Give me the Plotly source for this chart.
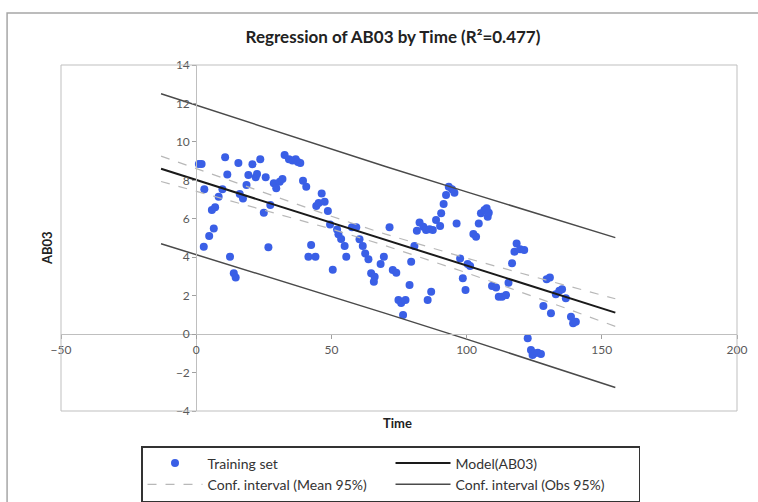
import plotly.graph_objects as go

# Training set (Time, AB03)
time_vals = [1.0, 2.0, 2.8, 3.0, 4.8, 5.8, 6.5, 7.0, 8.3, 9.7, 10.7, 11.5, 12.5, 13.9, 14.6,
             15.6, 16.1, 17.3, 18.6, 19.3, 20.8, 22.0, 22.5, 23.7, 25.0, 25.7, 26.7, 27.4,
             28.7, 29.6, 30.9, 31.9, 32.7, 34.3, 35.6, 36.8, 37.6, 38.5, 39.5, 40.7, 41.5,
             42.5, 44.1, 44.4, 45.3, 46.4, 47.5, 48.7, 49.5, 50.5, 52.1, 52.6, 53.6, 54.9,
             55.5, 57.6, 59.2, 60.4, 61.6, 62.5, 63.7, 64.7, 65.7, 66.0, 68.2, 69.4, 71.5,
             72.7, 74.0, 74.8, 75.8, 76.5, 77.4, 78.9, 79.5, 80.7, 81.6, 82.6, 84.0, 85.0,
             85.6, 86.3, 86.9, 87.5, 88.7, 90.2, 90.6, 91.5, 92.4, 93.4, 94.6, 95.5, 96.3,
             97.6, 98.6, 99.6, 100.4, 101.3, 102.5, 103.5, 104.5, 105.3, 106.6, 107.4, 107.8,
             108.2, 109.4, 110.9, 111.9, 113.1, 114.6, 115.5, 116.8, 117.7, 118.5, 119.8,
             121.3, 122.6, 123.8, 124.4, 125.0, 126.3, 127.5, 128.4, 129.6, 130.8, 131.2,
             133.0, 134.3, 135.3, 136.7, 138.6, 139.4, 140.4]
ab03_vals = [8.85, 8.85, 4.55, 7.54, 5.10, 6.46, 5.50, 6.60, 7.15, 7.54, 9.20, 8.30, 4.03, 3.16, 2.95,
             8.90, 7.29, 7.05, 7.76, 8.28, 8.84, 8.16, 8.33, 9.10, 6.32, 8.16, 4.52, 6.72,
             7.85, 7.59, 7.93, 8.07, 9.32, 9.10, 9.03, 9.10, 8.95, 8.90, 7.98, 7.67, 4.03,
             4.64, 4.03, 6.67, 6.82, 7.31, 6.89, 6.40, 5.70, 3.35, 5.44, 5.20, 4.95, 4.58,
             4.03, 5.56, 5.56, 4.93, 4.58, 4.20, 3.89, 3.16, 2.72, 2.98, 3.65, 4.03, 5.56,
             3.33, 3.19, 1.77, 1.62, 0.99, 1.77, 2.55, 3.77, 4.58, 5.38, 5.80, 5.59, 5.42,
             1.77, 5.45, 2.20, 5.42, 5.94, 5.63, 6.29, 6.77, 7.24, 7.67, 7.54, 7.36, 5.76,
             3.94, 2.90, 2.29, 3.65, 3.54, 5.21, 5.07, 5.76, 6.29, 6.46, 6.55, 6.11,
             6.32, 2.50, 2.43, 1.94, 1.94, 2.03, 2.67, 3.68, 4.29, 4.72, 4.41,
             4.38, -0.22, -0.83, -1.09, -1.00, -0.97, -1.04, 1.46, 2.85, 2.95, 1.08,
             2.08, 2.26, 2.33, 1.86, 0.90, 0.56, 0.64]

# Model and confidence intervals, read at these Time positions
line_x = [-13, 20, 50, 70, 100, 130, 155]
model_y = [8.60, 7.13, 5.80, 4.90, 3.57, 2.24, 1.12]
mean_upper = [9.26, 7.61, 6.13, 5.20, 3.95, 2.79, 1.84]
mean_lower = [7.94, 6.65, 5.47, 4.60, 3.19, 1.69, 0.40]
obs_upper = [12.50, 10.99, 9.63, 8.72, 7.40, 6.10, 5.02]
obs_lower = [4.70, 3.27, 1.97, 1.08, -0.26, -1.62, -2.78]

x_ticks = [-50, 0, 50, 100, 150, 200]
y_ticks = [-4, -2, 0, 2, 4, 6, 8, 10, 12, 14]

FONT = "Lato"
fig = go.Figure()

fig.add_trace(go.Scatter(x=time_vals, y=ab03_vals, mode="markers", name="Training set",
                         marker=dict(color="#3a5fe6", size=8)))
fig.add_trace(go.Scatter(x=line_x, y=model_y, mode="lines", name="Model(AB03)",
                         line=dict(color="#1a1a1a", width=2)))
fig.add_trace(go.Scatter(x=line_x, y=mean_upper, mode="lines", name="Conf. interval (Mean 95%)",
                         legendgroup="mean", line=dict(color="#b8b8b8", width=1.2, dash="dash")))
fig.add_trace(go.Scatter(x=line_x, y=obs_upper, mode="lines", name="Conf. interval (Obs 95%)",
                         legendgroup="obs", line=dict(color="#4a4a4a", width=1.5)))
fig.add_trace(go.Scatter(x=line_x, y=mean_lower, mode="lines", name="Conf. interval (Mean 95%)",
                         legendgroup="mean", showlegend=False,
                         line=dict(color="#b8b8b8", width=1.2, dash="dash")))
fig.add_trace(go.Scatter(x=line_x, y=obs_lower, mode="lines", name="Conf. interval (Obs 95%)",
                         legendgroup="obs", showlegend=False,
                         line=dict(color="#4a4a4a", width=1.5)))

axis_common = dict(showgrid=False, zeroline=False, showline=True, linecolor="#bfbfbf",
                   ticks="outside", ticklen=4, tickcolor="#a0a0a0",
                   tickfont=dict(family=FONT, size=12, color="#595959"))

fig.update_layout(
    width=758, height=502,
    margin=dict(l=61, r=21, t=65, b=91, autoexpand=False),
    paper_bgcolor="white", plot_bgcolor="white",
    font=dict(family=FONT, color="#222"),
    title=dict(text="<b>Regression of AB03 by Time (R²=0.477)</b>", x=393/758, xanchor="center",
               y=1-37/502, yanchor="middle", font=dict(family=FONT, size=17, color="#222")),
    xaxis=dict(range=[-50, 200], tickvals=x_ticks, anchor="free", position=4/18, **axis_common),
    yaxis=dict(range=[-4, 14], tickvals=y_ticks, anchor="free", position=50/250, **axis_common),
    showlegend=True,
    legend=dict(orientation="h", x=(391-61)/677, xanchor="center", y=(411-446)/346, yanchor="top",
                bordercolor="#333", borderwidth=1.5, entrywidth=178, entrywidthmode="pixels",
                itemwidth=55, font=dict(family=FONT, size=14, color="#333"),
                traceorder="normal"),
    shapes=[
        dict(type="rect", xref="paper", yref="paper", x0=0, x1=1, y0=0, y1=1,
             line=dict(color="#bfbfbf", width=1)),
        dict(type="rect", xref="paper", yref="paper", x0=(7-61)/677, x1=(780-61)/677,
             y0=(411-530)/346, y1=(411-13)/346, line=dict(color="#a6a6a6", width=1.5)),
    ],
    annotations=[
        dict(text="<b>Time</b>", xref="paper", yref="paper", x=(398-61)/677, y=(411-423)/346,
             xanchor="center", yanchor="middle", showarrow=False,
             font=dict(family=FONT, size=13, color="#222")),
        dict(text="<b>AB03</b>", xref="paper", yref="paper", x=(47-61)/677, y=(411-248)/346,
             xanchor="center", yanchor="middle", showarrow=False, textangle=-90,
             font=dict(family=FONT, size=13, color="#222")),
    ],
)

fig.write_html("out.html")
